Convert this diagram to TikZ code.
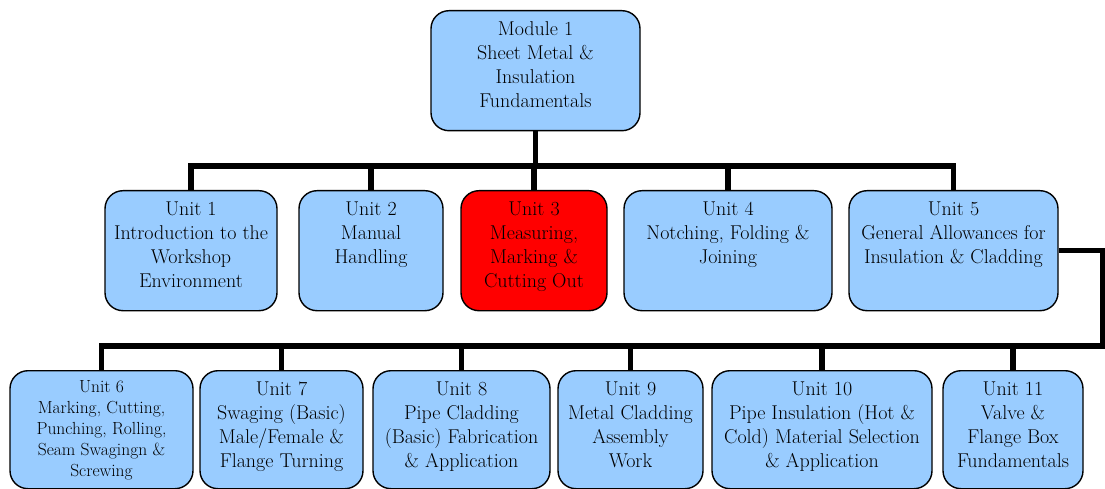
\documentclass[tikz,border=0pt]{standalone}
\definecolor{boxblue}{HTML}{99CCFF}
\definecolor{boxred}{HTML}{FF0000}
\newcommand{\btext}[4]{\parbox[t][#2][t]{#1}{\centering\vspace*{#3}#4\par}}
\tikzset{
  unitbox/.style={draw=black, line width=1.4pt, rounded corners=18pt, fill=boxblue,
    inner sep=0pt, anchor=north, font=\fontsize{20}{24}\selectfont},
  smallbox/.style={unitbox, font=\fontsize{17.5}{21}\selectfont},
  redbox/.style={unitbox, fill=boxred},
  wire/.style={line width=5.5pt, black, line join=miter},
}
\begin{document}
\begin{tikzpicture}[x=1pt,y=-1pt]
\useasboundingbox (0,0) rectangle (1105,489);
% module
\node[unitbox] (mod) at (535.5,10) {\btext{209pt}{120pt}{11pt}{Module 1\\Sheet Metal \&\\Insulation\\Fundamentals}};
% row 1
\node[unitbox] (u1) at (191,190) {\btext{172pt}{120pt}{11pt}{Unit 1\\Introduction to the\\Workshop\\Environment}};
\node[unitbox] (u2) at (371,190) {\btext{144pt}{120pt}{11pt}{Unit 2\\Manual\\Handling}};
\node[redbox] (u3) at (534,190) {\btext{146pt}{120pt}{11pt}{Unit 3\\Measuring,\\Marking \&\\Cutting Out}};
\node[unitbox] (u4) at (728,190) {\btext{208pt}{120pt}{11pt}{Unit 4\\Notching, Folding \&\\Joining}};
\node[unitbox] (u5) at (953.5,190) {\btext{209pt}{120pt}{11pt}{Unit 5\\General Allowances for\\Insulation \& Cladding}};
% row 2
\node[smallbox] (u6) at (101.5,370) {\btext{183pt}{118pt}{10pt}{Unit 6\\Marking, Cutting,\\Punching, Rolling,\\Seam Swagingn \&\\Screwing}};
\node[unitbox] (u7) at (281.5,370) {\btext{163pt}{118pt}{11pt}{Unit 7\\Swaging (Basic)\\Male/Female \&\\Flange Turning}};
\node[unitbox] (u8) at (461.5,370) {\btext{177pt}{118pt}{11pt}{Unit 8\\Pipe Cladding\\(Basic) Fabrication\\\& Application}};
\node[unitbox] (u9) at (630.5,370) {\btext{145pt}{118pt}{11pt}{Unit 9\\Metal Cladding\\Assembly\\Work}};
\node[unitbox] (u10) at (822,370) {\btext{220pt}{118pt}{11pt}{Unit 10\\Pipe Insulation (Hot \&\\Cold) Material Selection\\\& Application}};
\node[unitbox] (u11) at (1013,370) {\btext{140pt}{118pt}{11pt}{Unit 11\\Valve \&\\Flange Box\\Fundamentals}};
% connectors row 1
\coordinate (bus1) at (534,166);
\draw[wire] (mod.south) -- (mod.south |- bus1);
\draw[wire] (u1.north) |- (bus1) -| (u5.north);
\foreach \n in {u2,u3,u4} \draw[wire] (\n.north) -- (\n.north |- bus1);
% connectors row 2
\coordinate (bus2) at (1103,346);
\draw[wire] (u5.east) -| (bus2) -| (u6.north);
\foreach \n in {u7,u8,u9,u10,u11} \draw[wire] (\n.north) -- (\n.north |- bus2);
\end{tikzpicture}
\end{document}
